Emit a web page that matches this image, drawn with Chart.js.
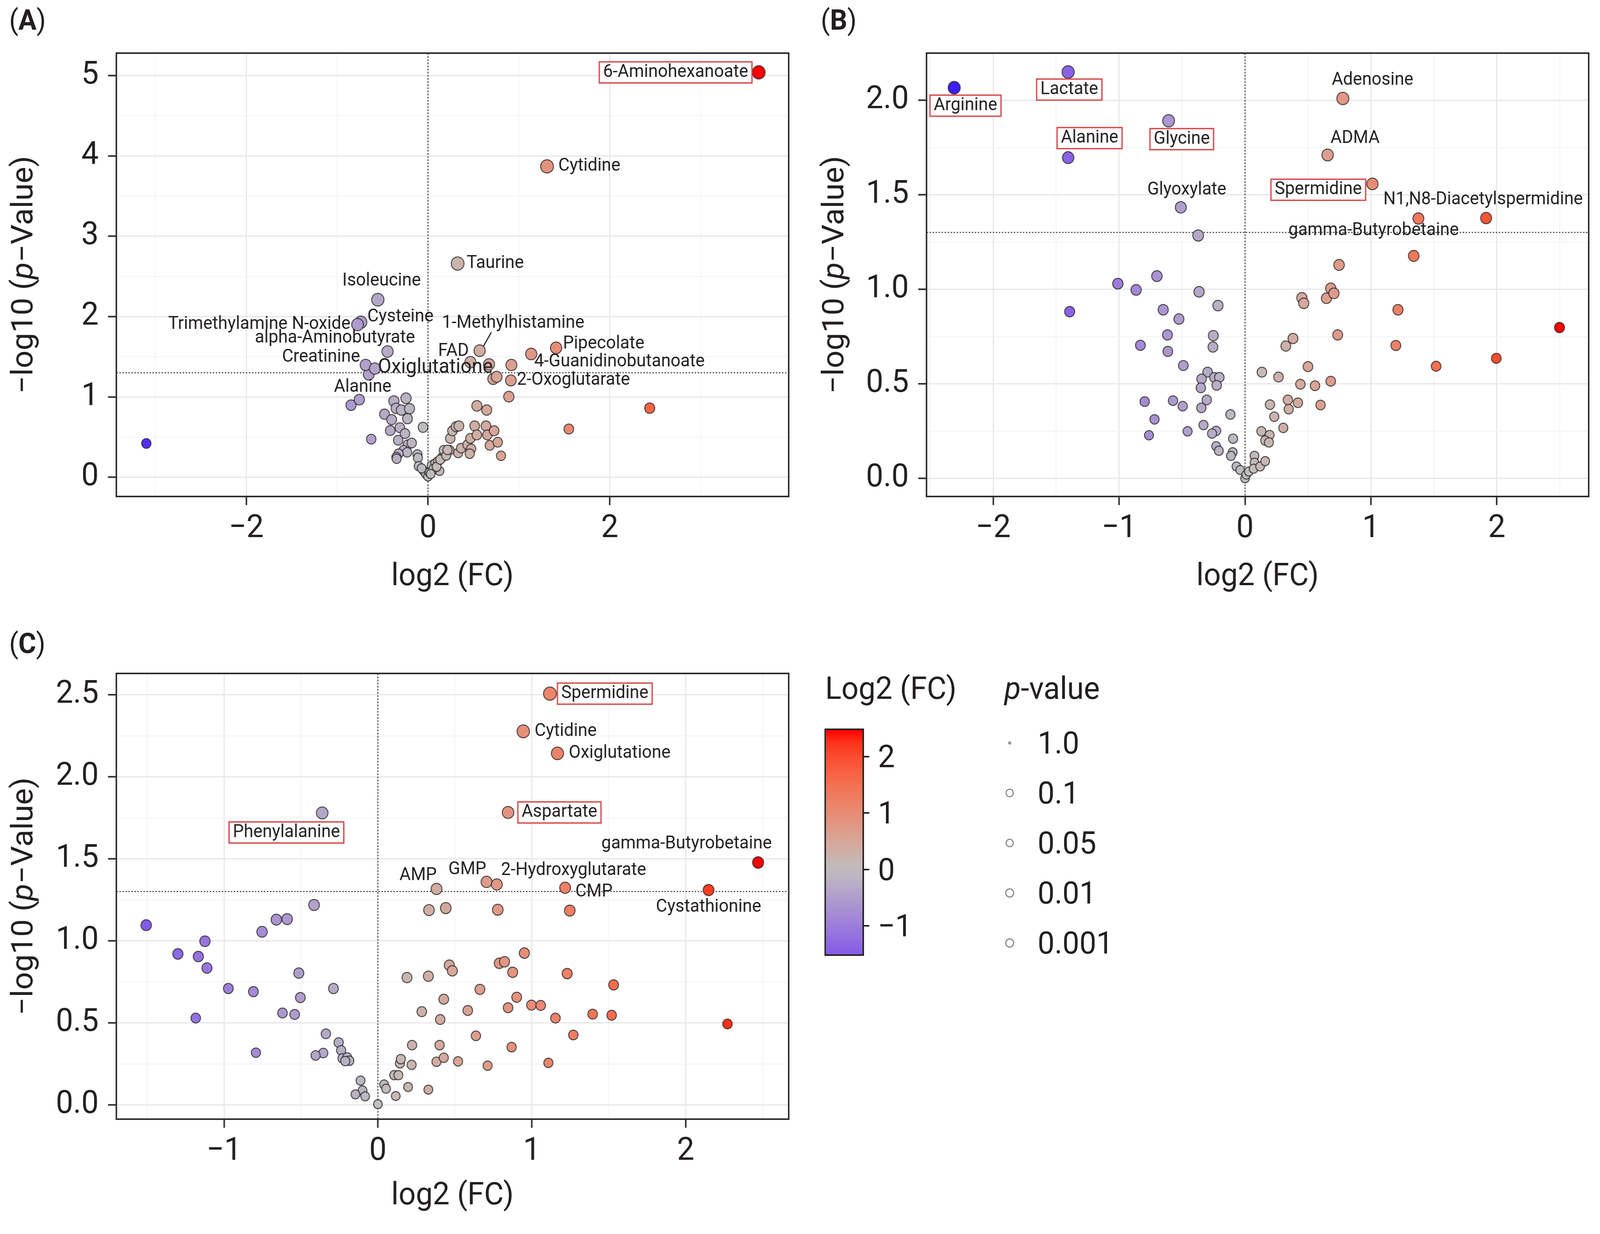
<!DOCTYPE html>
<html>
<head>
<meta charset="utf-8">
<title>Volcano plots</title>
<script src="https://cdn.jsdelivr.net/npm/chart.js@4.4.1/dist/chart.umd.min.js"></script>
<style>
    html, body { margin: 0; padding: 0; background: #fff; overflow: hidden; }
    body { font-family: Roboto, "Liberation Sans", sans-serif; color: #231f20; }
    #page { width: 4250px; height: 3159px; position: absolute; left: 0; top: 0; transform-origin: 0 0; }
    canvas { position: absolute; }
    .tag { position: absolute; font-size: 72px; line-height: 1; }
    .lg { position: absolute; font-size: 80px; line-height: 1; white-space: nowrap; }
    .mid { transform: translateY(-50%); }
    .dot { position: absolute; border: 3px solid #8a8a8a; border-radius: 50%; box-sizing: border-box; }
    .cbtick { position: absolute; height: 4px; width: 18px; background: #231f20; }
</style>
</head>
<body>
<div id="page">
<div class="tag" style="left:24px;top:16px">(<b>A</b>)</div>
<div class="tag" style="left:2180px;top:16px">(<b>B</b>)</div>
<div class="tag" style="left:24px;top:1612px">(<b>C</b>)</div>

<canvas id="chartA" width="2125" height="1550" style="left:0;top:0"></canvas>
<canvas id="chartB" width="2100" height="1550" style="left:2150px;top:0"></canvas>
<canvas id="chartC" width="2125" height="1579" style="left:0;top:1580px"></canvas>

<div class="lg" style="left:2192px;top:1722px">Log2 (FC)</div>
<div id="cbar" style="position:absolute;left:2190px;top:1865px;width:105px;height:582px;border:4px solid #231f20;box-sizing:border-box"></div>
<div id="cbarTicks"></div>

<div class="lg" style="left:2668px;top:1722px"><i>p</i>-value</div>
<div id="sizeLegend"></div>
</div>

<script>
// ---- Panel A ----
var aLabelNames = ['6-Aminohexanoate', 'Cytidine', 'Taurine', 'Isoleucine', 'Cysteine', 'Trimethylamine N-oxide',
    'alpha-Aminobutyrate', 'Creatinine', 'Oxiglutatione', 'Alanine', '1-Methylhistamine', 'FAD',
    'Pipecolate', '4-Guanidinobutanoate', '2-Oxoglutarate'];
var aLabelX = [3.64, 1.31, 0.326, -0.552, -0.738, -0.775, -0.445, -0.686, -0.585, -0.756, 0.568, 0.467, 1.41, 1.136, 0.912];
var aLabelY = [5.04, 3.87, 2.66, 2.21, 1.93, 1.90, 1.565, 1.398, 1.353, 0.966, 1.575, 1.432, 1.61, 1.535, 1.205];
var aX = [-0.652, 0.672, 0.918, 0.717, 0.756, 0.89, 2.44, 1.55, -3.10, -0.847, -0.375, -0.242, -0.351, -0.293, -0.203,
    -0.478, -0.4, -0.226, -0.055, -0.416, -0.309, -0.253, -0.625, -0.328, -0.222, -0.179, -0.269, -0.229, -0.324, -0.348,
    -0.116, -0.111, -0.103, -0.047, -0.024, 0, 0.016, 0.04, 0.079, 0.11, 0.127, 0.158, 0.19, 0.174, 0.237, 0.245, 0.269,
    0.309, 0.34, 0.332, 0.364, 0.435, 0.467, 0.475, 0.459, 0.514, 0.538, 0.646, 0.538, 0.638, 0.653, 0.728, 0.68, 0.767,
    0.804, 0.06, 0.095, 0.135, 0.2, 0.03, -0.07, 0.215, -0.345];
var aY = [1.279, 1.405, 1.397, 1.224, 1.25, 1.003, 0.86, 0.60, 0.42, 0.897, 0.948, 0.983, 0.857, 0.836, 0.853,
    0.785, 0.716, 0.729, 0.621, 0.581, 0.616, 0.543, 0.474, 0.46, 0.405, 0.426, 0.336, 0.31, 0.293, 0.25,
    0.284, 0.241, 0.138, 0.078, 0.043, 0.009, 0.06, 0.147, 0.172, 0.198, 0.078, 0.25, 0.302, 0.336, 0.336, 0.483, 0.578,
    0.629, 0.638, 0.302, 0.362, 0.405, 0.483, 0.353, 0.293, 0.638, 0.888, 0.836, 0.526, 0.638, 0.526, 0.578, 0.397, 0.436,
    0.267, 0.105, 0.13, 0.22, 0.27, 0.04, 0.11, 0.34, 0.23];

// ---- Panel B ----
var bLabelNames = ['Arginine', 'Lactate', 'Alanine', 'Glycine', 'Glyoxylate', 'Adenosine', 'ADMA', 'Spermidine',
    'N1,N8-Diacetylspermidine', 'gamma-Butyrobetaine'];
var bLabelX = [-2.31, -1.405, -1.405, -0.607, -0.51, 0.777, 0.656, 1.012, 1.915, 1.377];
var bLabelY = [2.067, 2.15, 1.697, 1.892, 1.434, 2.01, 1.711, 1.558, 1.377, 1.375];
var bX = [-0.372, -1.393, 1.34, 1.215, 1.198, 1.518, 1.996, 2.498, 0.747, -0.70, -1.01, -0.865, -0.365, -0.215, -0.65,
    -0.525, -0.616, -0.252, -0.831, -0.613, -0.255, -0.49, -0.297, -0.345, -0.243, -0.204, -0.225, -0.351, -0.797, -0.572,
    -0.495, -0.304, -0.347, -0.116, -0.719, -0.33, -0.456, -0.229, -0.262, -0.763, -0.095, -0.229, -0.208, -0.098, -0.112,
    -0.068, -0.038, 0, 0.01, 0.03, 0.075, 0.075, 0.068, 0.12, 0.16, 0.13, 0.195, 0.16, 0.19, 0.304,
    0.232, 0.198, 0.34, 0.347, 0.42, 0.60, 0.134, 0.266, 0.44, 0.556, 0.681, 0.50, 0.324, 0.381, 0.736,
    0.452, 0.467, 0.647, 0.681, 0.706];
var bY = [1.285, 0.882, 1.177, 0.892, 0.703, 0.593, 0.635, 0.798, 1.129, 1.07, 1.03, 0.997, 0.987, 0.914, 0.892,
    0.843, 0.759, 0.755, 0.704, 0.672, 0.695, 0.597, 0.562, 0.526, 0.534, 0.534, 0.492, 0.479, 0.406, 0.411,
    0.382, 0.415, 0.373, 0.338, 0.312, 0.282, 0.249, 0.251, 0.237, 0.228, 0.21, 0.17, 0.146, 0.138, 0.119,
    0.063, 0.044, 0, 0.02, 0.036, 0.119, 0.083, 0.051, 0.063, 0.091, 0.249, 0.229, 0.2, 0.19, 0.267,
    0.326, 0.39, 0.415, 0.366, 0.4, 0.388, 0.562, 0.536, 0.498, 0.49, 0.514, 0.591, 0.70, 0.74, 0.759,
    0.955, 0.926, 0.953, 1.005, 0.979];

// ---- Panel C ----
var cLabelNames = ['Spermidine', 'Cytidine', 'Oxiglutatione', 'Phenylalanine', 'Aspartate', 'gamma-Butyrobetaine',
    'Cystathionine', 'AMP', 'GMP', '2-Hydroxyglutarate', 'CMP'];
var cLabelX = [1.118, 0.945, 1.167, -0.362, 0.846, 2.471, 2.149, 0.381, 0.706, 0.773, 1.217];
var cLabelY = [2.507, 2.277, 2.143, 1.78, 1.783, 1.478, 1.31, 1.317, 1.36, 1.344, 1.324];
var cX = [-0.415, -1.506, -0.66, -0.59, -0.753, -1.124, -1.3, -1.167, -1.111, -0.514, -0.972, -0.809, -0.289, -0.504, -0.62,
    -0.541, -1.184, -0.793, -0.338, -0.255, -0.355, -0.405, -0.239, -0.23, -0.2, -0.186, -0.212, -0.113, -0.1, -0.146,
    -0.083, 0, 0.04, 0.053, 0.116, 0.106, 0.133, 0.143, 0.149, 0.219, 0.196, 0.222, 0.328, 0.381, 0.428,
    0.401, 0.405, 0.285, 0.521, 0.637, 0.713, 0.584, 0.428, 0.663, 0.189, 0.328, 0.464, 0.484, 0.789, 0.823,
    0.952, 0.876, 0.902, 0.846, 0.998, 1.058, 1.154, 0.869, 1.108, 1.27, 1.23, 1.396, 1.519, 1.532, 2.272,
    0.332, 0.441, 0.779, 1.247];
var cY = [1.219, 1.096, 1.13, 1.133, 1.056, 0.998, 0.921, 0.905, 0.835, 0.804, 0.71, 0.691, 0.71, 0.655, 0.561,
    0.552, 0.53, 0.319, 0.434, 0.381, 0.317, 0.302, 0.333, 0.285, 0.29, 0.27, 0.268, 0.149, 0.089, 0.065,
    0.053, 0.005, 0.125, 0.1, 0.055, 0.182, 0.182, 0.254, 0.28, 0.245, 0.11, 0.365, 0.094, 0.264, 0.288,
    0.365, 0.521, 0.569, 0.266, 0.422, 0.24, 0.576, 0.645, 0.705, 0.777, 0.785, 0.852, 0.818, 0.864, 0.873,
    0.926, 0.809, 0.657, 0.593, 0.609, 0.607, 0.53, 0.353, 0.257, 0.427, 0.801, 0.554, 0.547, 0.732, 0.494,
    1.188, 1.2, 1.19, 1.185];

// legend values
var pLegendValues = ['1.0', '0.1', '0.05', '0.01', '0.001'];
var fcLegendTicks = [2, 1, 0, -1];
var pCut = 0.05;

// label placement: [align, dx, dy, boxed, fontSize, leader]
var aLabelLayout = [
    ['right', -28, 0, true], ['left', 30, 0], ['left', 24, 0], ['center', 10, -48], ['left', 17, -13],
    ['right', -19, 0], ['right', 73, -34], ['right', -15, -20], ['left', 8, -2, false, 52], ['center', 9, -32],
    ['left', -100, -70, false, 46, [10, -11, 31, -47]], ['right', -4, -28], ['left', 18, -10], ['left', 8, 20], ['left', 16, 0]
];
var bLabelLayout = [
    ['center', 30, 46, true], ['center', 3, 45, true], ['center', 57, -50, true], ['center', 35, 47, true], ['center', 16, -44],
    ['center', 79, -47], ['center', 73, -42], ['right', -28, 15, true], ['center', -8, -47], ['center', -119, 31]
];
var cLabelLayout = [
    ['left', 30, 0, true], ['left', 30, 0], ['left', 30, 0], ['center', -95, 50, true], ['left', 36, 0, true],
    ['center', -190, -47], ['center', 0, 44], ['center', -49, -34], ['center', -51, -31], ['left', 11, -36], ['left', 27, 11]
];

var TEXT = '#231f20';
var FONT = 'Roboto, "Liberation Sans", sans-serif';
Chart.defaults.font.family = FONT;

// fit the 4250x3159 page into the viewport we are given
(function () {
    var sx = window.innerWidth / 4250, sy = window.innerHeight / 3159;
    document.getElementById('page').style.transform = 'scale(' + sx + ',' + sy + ')';
})();

// Lab colour mixing (gray mid, blue low, red high)
function toLin(c) { c /= 255; return c <= 0.04045 ? c / 12.92 : Math.pow((c + 0.055) / 1.055, 2.4); }
function toSrgb(c) { c = c <= 0.0031308 ? 12.92 * c : 1.055 * Math.pow(c, 1 / 2.4) - 0.055; return Math.round(Math.max(0, Math.min(1, c)) * 255); }
function rgbToLab(rgb) {
    var r = toLin(rgb[0]), g = toLin(rgb[1]), b = toLin(rgb[2]);
    var X = (0.4124 * r + 0.3576 * g + 0.1805 * b) / 0.95047;
    var Y = 0.2126 * r + 0.7152 * g + 0.0722 * b;
    var Z = (0.0193 * r + 0.1192 * g + 0.9505 * b) / 1.08883;
    var f = function (t) { return t > 0.008856 ? Math.cbrt(t) : 7.787 * t + 16 / 116; };
    var fx = f(X), fy = f(Y), fz = f(Z);
    return [116 * fy - 16, 500 * (fx - fy), 200 * (fy - fz)];
}
function labToRgb(lab) {
    var fy = (lab[0] + 16) / 116, fx = fy + lab[1] / 500, fz = fy - lab[2] / 200;
    var g = function (t) { return t > 0.206897 ? t * t * t : (t - 16 / 116) / 7.787; };
    var X = g(fx) * 0.95047, Y = g(fy), Z = g(fz) * 1.08883;
    var r = 3.2406 * X - 1.5372 * Y - 0.4986 * Z;
    var gg = -0.9689 * X + 1.8758 * Y + 0.0415 * Z;
    var b = 0.0557 * X - 0.2040 * Y + 1.0570 * Z;
    return 'rgb(' + toSrgb(r) + ',' + toSrgb(gg) + ',' + toSrgb(b) + ')';
}
var LOW = rgbToLab([0, 0, 255]), MID = rgbToLab([190, 190, 190]), HIGH = rgbToLab([255, 0, 0]);
function fcColor(v, lim) {
    var t = Math.max(-1, Math.min(1, v / lim));
    var end = t < 0 ? LOW : HIGH;
    t = Math.abs(t);
    return labToRgb([MID[0] + (end[0] - MID[0]) * t, MID[1] + (end[1] - MID[1]) * t, MID[2] + (end[2] - MID[2]) * t]);
}
function pointRadius(y) { return 11.5 + 2.2 * Math.min(y, 2.5); }

function isMajor(v, major) { return Math.abs(v / major - Math.round(v / major)) < 1e-6; }

function scaleOpts(min, max, step, major, dec, fit, isX) {
    return {
        type: 'linear', min: min, max: max,
        afterBuildTicks: function (s) {
            var t = [];
            for (var v = Math.ceil(min / step - 1e-9) * step; v <= max + 1e-9; v += step) {
                t.push({value: Math.round(v * 1000) / 1000});
            }
            s.ticks = t;
        },
        afterFit: function (s) { if (isX) { s.height = fit; } else { s.width = fit; } },
        ticks: {
            autoSkip: false, maxRotation: 0, minRotation: 0,
            padding: isX ? 12 : 25,
            color: TEXT,
            font: {family: FONT, size: 82},
            callback: function (v) {
                if (!isMajor(v, major)) return '';
                var s = Math.abs(v).toFixed(dec);
                return v < -1e-9 ? '\u2212' + s : s;
            }
        },
        grid: {
            color: function (c) { return isMajor(c.tick.value, major) ? '#e6e6e6' : '#f2f2f2'; },
            lineWidth: function (c) { return isMajor(c.tick.value, major) ? 3 : 2; },
            tickColor: function (c) { return isMajor(c.tick.value, major) ? '#2b2b2b' : 'rgba(0,0,0,0)'; },
            tickLength: 22,
            tickWidth: 4
        },
        border: {display: false}
    };
}

function drawYTitle(c, x, y) {
    var parts = [['\u2212log10 (', 'normal'], ['p', 'italic'], ['\u2212Value)', 'normal']];
    c.save();
    c.translate(x, y);
    c.rotate(-Math.PI / 2);
    c.fillStyle = TEXT;
    c.textBaseline = 'middle';
    c.textAlign = 'left';
    var w = 0;
    parts.forEach(function (p) { c.font = p[1] + ' 80px ' + FONT; w += c.measureText(p[0]).width; });
    var cx = -w / 2;
    parts.forEach(function (p) {
        c.font = p[1] + ' 80px ' + FONT;
        c.fillText(p[0], cx, 0);
        cx += c.measureText(p[0]).width;
    });
    c.restore();
}

function overlay(names, lx, ly, layout, yTitleX, xTitleOff) {
    return {
        id: 'overlay',
        beforeDatasetsDraw: function (chart) {
            var c = chart.ctx, a = chart.chartArea, xs = chart.scales.x, ys = chart.scales.y;
            var x0 = xs.getPixelForValue(0), y0 = ys.getPixelForValue(-Math.log10(pCut));
            c.save();
            c.strokeStyle = '#3a3a3a';
            c.lineWidth = 2.5;
            c.setLineDash([4, 4]);
            c.beginPath();
            c.moveTo(x0, a.top); c.lineTo(x0, a.bottom);
            c.moveTo(a.left, y0); c.lineTo(a.right, y0);
            c.stroke();
            c.restore();
        },
        afterDatasetsDraw: function (chart) {
            var c = chart.ctx, xs = chart.scales.x, ys = chart.scales.y;
            c.save();
            c.textBaseline = 'middle';
            for (var i = 0; i < names.length; i++) {
                var L = layout[i] || ['left', 20, 0];
                var px = xs.getPixelForValue(lx[i]), py = ys.getPixelForValue(ly[i]);
                var tx = px + L[1], ty = py + L[2];
                c.font = (L[4] || 46) + 'px ' + FONT;
                c.textAlign = L[0];
                if (L[5]) {
                    c.strokeStyle = TEXT; c.lineWidth = 3;
                    c.beginPath();
                    c.moveTo(px + L[5][0], py + L[5][1]);
                    c.lineTo(px + L[5][2], py + L[5][3]);
                    c.stroke();
                }
                if (L[3]) {
                    var w = c.measureText(names[i]).width;
                    var left = L[0] === 'left' ? tx : (L[0] === 'right' ? tx - w : tx - w / 2);
                    c.fillStyle = 'rgba(255,255,255,0.85)';
                    c.fillRect(left - 10, ty - 27, w + 20, 54);
                    c.strokeStyle = '#d64a4c'; c.lineWidth = 3.5;
                    c.strokeRect(left - 10, ty - 27, w + 20, 54);
                }
                c.fillStyle = TEXT;
                c.fillText(names[i], tx, ty);
            }
            c.restore();
        },
        afterDraw: function (chart) {
            var c = chart.ctx, a = chart.chartArea;
            c.save();
            c.strokeStyle = '#2b2b2b';
            c.lineWidth = 4;
            c.strokeRect(a.left, a.top, a.right - a.left, a.bottom - a.top);
            c.fillStyle = TEXT;
            c.font = '80px ' + FONT;
            c.textAlign = 'center';
            c.textBaseline = 'middle';
            c.fillText('log2 (FC)', (a.left + a.right) / 2, a.bottom + xTitleOff);
            c.restore();
            drawYTitle(c, yTitleX, (a.top + a.bottom) / 2);
        }
    };
}

function makeVolcano(id, names, lx, ly, ox, oy, layout, xs, ys, pad, yTitleX, xTitleOff) {
    var pts = [];
    for (var i = 0; i < ox.length; i++) pts.push({x: ox[i], y: oy[i]});
    for (var j = 0; j < names.length; j++) pts.push({x: lx[j], y: ly[j]});
    var lim = 0;
    pts.forEach(function (p) { lim = Math.max(lim, Math.abs(p.x)); });
    return new Chart(document.getElementById(id), {
        type: 'scatter',
        data: {
            datasets: [{
                data: pts,
                pointRadius: function (c) { return pointRadius(c.raw.y); },
                pointBackgroundColor: function (c) { return fcColor(c.raw.x, lim); },
                pointBorderColor: 'rgba(35,35,35,0.8)',
                pointBorderWidth: 2.5
            }]
        },
        options: {
            responsive: false,
            devicePixelRatio: 1,
            animation: false,
            events: [],
            layout: {padding: pad},
            plugins: {legend: {display: false}, tooltip: {enabled: false}},
            scales: {x: xs, y: ys}
        },
        plugins: [overlay(names, lx, ly, layout, yTitleX, xTitleOff)]
    });
}

makeVolcano('chartA', aLabelNames, aLabelX, aLabelY, aX, aY, aLabelLayout,
    scaleOpts(-3.43, 3.97, 1, 2, 0, 279, true), scaleOpts(-0.24, 5.28, 0.5, 1, 0, 309, false),
    {top: 136, right: 30, left: 0, bottom: 0}, 66, 207);
makeVolcano('chartB', bLabelNames, bLabelX, bLabelY, bX, bY, bLabelLayout,
    scaleOpts(-2.53, 2.73, 0.5, 1, 0, 279, true), scaleOpts(-0.096, 2.25, 0.25, 0.5, 1, 311, false),
    {top: 136, right: 30, left: 0, bottom: 0}, 70, 207);
makeVolcano('chartC', cLabelNames, cLabelX, cLabelY, cX, cY, cLabelLayout,
    scaleOpts(-1.70, 2.67, 0.5, 1, 0, 294, true), scaleOpts(-0.086, 2.63, 0.25, 0.5, 1, 309, false),
    {top: 144, right: 30, left: 0, bottom: 0}, 66, 198);

// colour bar legend (panel C scale)
(function () {
    var all = cX.concat(cLabelX);
    var cMin = Math.min.apply(null, all), cMax = Math.max.apply(null, all);
    var lim = Math.max(Math.abs(cMin), cMax);
    var stops = [];
    for (var k = 0; k <= 20; k++) {
        var v = cMax - (cMax - cMin) * k / 20;
        stops.push(fcColor(v, lim) + ' ' + (k * 5) + '%');
    }
    var bar = document.getElementById('cbar');
    bar.style.background = 'linear-gradient(to bottom,' + stops.join(',') + ')';
    var top = 1865 + 4, h = 582 - 8, html = '';
    fcLegendTicks.forEach(function (t) {
        var y = top + (cMax - t) / (cMax - cMin) * h;
        html += '<div class="cbtick" style="left:2291px;top:' + (y - 2) + 'px"></div>';
        html += '<div class="lg mid" style="left:2332px;top:' + y + 'px">' + (t < 0 ? '\u2212' + Math.abs(t) : t) + '</div>';
    });
    document.getElementById('cbarTicks').innerHTML = html;

    var sh = '';
    pLegendValues.forEach(function (p, i) {
        var y = 1902 + i * 128;
        var r = 4 + 8.5 * (1 - Math.exp(-1.5 * -Math.log10(parseFloat(p))));
        sh += '<div class="dot" style="left:' + (2682 - r) + 'px;top:' + (y - r) + 'px;width:' + (2 * r) + 'px;height:' + (2 * r) + 'px"></div>';
        sh += '<div class="lg mid" style="left:2756px;top:' + y + 'px">' + p + '</div>';
    });
    document.getElementById('sizeLegend').innerHTML = sh;
})();
</script>
</body>
</html>
